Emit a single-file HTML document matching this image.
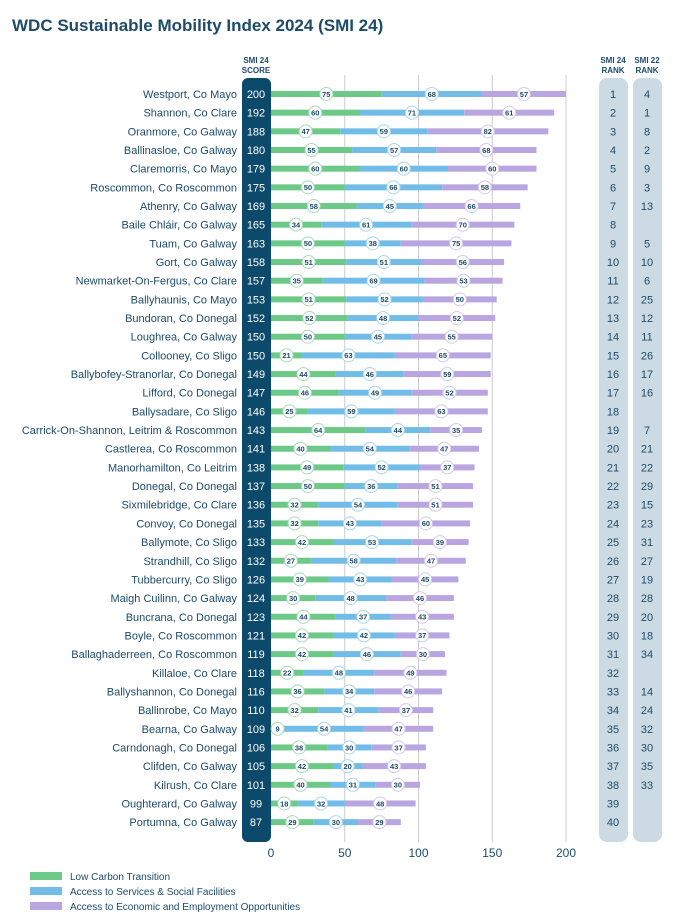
<!DOCTYPE html>
<html><head><meta charset="utf-8"><style>
body{margin:0;background:#fff;font-family:"Liberation Sans",sans-serif;}
</style></head><body>
<svg id="s" width="673" height="919" xmlns="http://www.w3.org/2000/svg" font-family="Liberation Sans, sans-serif"></svg>
<script>
const D=[
["Westport, Co Mayo",200,75,68,57,1,4],["Shannon, Co Clare",192,60,71,61,2,1],["Oranmore, Co Galway",188,47,59,82,3,8],
["Ballinasloe, Co Galway",180,55,57,68,4,2],["Claremorris, Co Mayo",179,60,60,60,5,9],["Roscommon, Co Roscommon",175,50,66,58,6,3],
["Athenry, Co Galway",169,58,45,66,7,13],["Baile Chláir, Co Galway",165,34,61,70,8,""],["Tuam, Co Galway",163,50,38,75,9,5],
["Gort, Co Galway",158,51,51,56,10,10],["Newmarket-On-Fergus, Co Clare",157,35,69,53,11,6],["Ballyhaunis, Co Mayo",153,51,52,50,12,25],
["Bundoran, Co Donegal",152,52,48,52,13,12],["Loughrea, Co Galway",150,50,45,55,14,11],["Collooney, Co Sligo",150,21,63,65,15,26],
["Ballybofey-Stranorlar, Co Donegal",149,44,46,59,16,17],["Lifford, Co Donegal",147,46,49,52,17,16],["Ballysadare, Co Sligo",146,25,59,63,18,""],
["Carrick-On-Shannon, Leitrim & Roscommon",143,64,44,35,19,7],["Castlerea, Co Roscommon",141,40,54,47,20,21],["Manorhamilton, Co Leitrim",138,49,52,37,21,22],
["Donegal, Co Donegal",137,50,36,51,22,29],["Sixmilebridge, Co Clare",136,32,54,51,23,15],["Convoy, Co Donegal",135,32,43,60,24,23],
["Ballymote, Co Sligo",133,42,53,39,25,31],["Strandhill, Co Sligo",132,27,58,47,26,27],["Tubbercurry, Co Sligo",126,39,43,45,27,19],
["Maigh Cuilinn, Co Galway",124,30,48,46,28,28],["Buncrana, Co Donegal",123,44,37,43,29,20],["Boyle, Co Roscommon",121,42,42,37,30,18],
["Ballaghaderreen, Co Roscommon",119,42,46,30,31,34],["Killaloe, Co Clare",118,22,48,49,32,""],["Ballyshannon, Co Donegal",116,36,34,46,33,14],
["Ballinrobe, Co Mayo",110,32,41,37,34,24],["Bearna, Co Galway",109,9,54,47,35,32],["Carndonagh, Co Donegal",106,38,30,37,36,30],
["Clifden, Co Galway",105,42,20,43,37,35],["Kilrush, Co Clare",101,40,31,30,38,33],["Oughterard, Co Galway",99,18,32,48,39,""],
["Portumna, Co Galway",87,29,30,29,40,""]];
const T="#1d4b6a",C=["#6cc987","#72bde8","#b9a6e0"],BC=["#a9dcb8","#a8d6f2","#d4c8ee"];
const X0=271,K=1.475,Y0=94,DY=18.67;
let h=`<text x="12" y="31" font-size="17" font-weight="bold" fill="${T}">WDC Sustainable Mobility Index 2024 (SMI 24)</text>`;
h+=`<text x="256" y="63" font-size="8" font-weight="bold" fill="${T}" text-anchor="middle">SMI 24</text><text x="256" y="73" font-size="8" font-weight="bold" fill="${T}" text-anchor="middle">SCORE</text>`;
h+=`<text x="613" y="63" font-size="8" font-weight="bold" fill="${T}" text-anchor="middle">SMI 24</text><text x="613" y="73" font-size="8" font-weight="bold" fill="${T}" text-anchor="middle">RANK</text>`;
h+=`<text x="647" y="63" font-size="8" font-weight="bold" fill="${T}" text-anchor="middle">SMI 22</text><text x="647" y="73" font-size="8" font-weight="bold" fill="${T}" text-anchor="middle">RANK</text>`;
h+=`<rect x="599" y="78" width="29" height="764" rx="8" fill="#ccdbe3"/><rect x="633" y="78" width="29" height="764" rx="8" fill="#ccdbe3"/>`;
for(let v=50;v<=200;v+=50){const x=X0+v*K;h+=`<line x1="${x}" y1="75" x2="${x}" y2="842" stroke="#ccc" stroke-width="1"/>`;}
h+=`<rect x="242" y="78" width="29" height="764" rx="6" fill="#0c4a6b"/>`;
D.forEach((d,i)=>{const y=Y0+i*DY;
h+=`<text x="237" y="${y+4}" font-size="11" fill="${T}" text-anchor="end">${d[0].replace('&','&amp;')}</text>`;
h+=`<text x="256" y="${y+4}" font-size="11" fill="#fff" text-anchor="middle">${d[1]}</text>`;
h+=`<text x="613" y="${y+4}" font-size="11" fill="${T}" text-anchor="middle">${d[5]}</text><text x="647" y="${y+4}" font-size="11" fill="${T}" text-anchor="middle">${d[6]}</text>`;
let s=0;for(let k=0;k<3;k++){const v=d[2+k];h+=`<rect x="${X0+s*K}" y="${y-3}" width="${v*K}" height="6" fill="${C[k]}"/>`;s+=v;}
s=0;for(let k=0;k<3;k++){const v=d[2+k];const cx=X0+(s+v/2)*K;h+=`<circle cx="${cx}" cy="${y}" r="6.5" fill="#fff" stroke="${BC[k]}" stroke-width="1"/><text x="${cx}" y="${y+2.8}" font-size="7.5" font-weight="bold" fill="${T}" text-anchor="middle">${v}</text>`;s+=v;}
});
[0,50,100,150,200].forEach(v=>{h+=`<text x="${X0+v*K}" y="857" font-size="12" fill="${T}" text-anchor="middle">${v}</text>`;});
["Low Carbon Transition","Access to Services & Social Facilities","Access to Economic and Employment Opportunities"].forEach((t,k)=>{const y=876+k*15;
h+=`<rect x="30" y="${y-4}" width="32" height="8" fill="${C[k]}"/><text x="70" y="${y+4}" font-size="10" fill="${T}">${t.replace('&','&amp;')}</text>`;});
document.getElementById('s').innerHTML=h;
</script>
</body></html>
